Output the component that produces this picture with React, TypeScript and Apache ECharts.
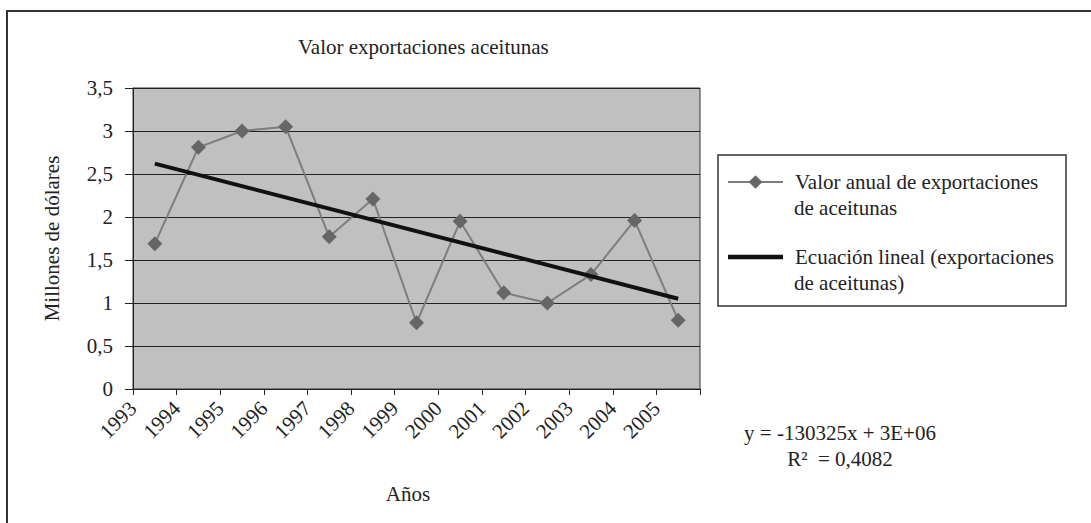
import React, { useEffect, useRef } from "react";
import * as echarts from "echarts";

const years = ["1993", "1994", "1995", "1996", "1997", "1998", "1999", "2000", "2001", "2002", "2003", "2004", "2005"];
const yearTickLabels = [...years, ""];
const exportValues = [1.69, 2.81, 3.0, 3.05, 1.77, 2.21, 0.77, 1.95, 1.12, 1.0, 1.33, 1.96, 0.8];
const trendPoints: [string, number][] = [["1993", 2.62], ["2005", 1.05]];
const seriesNames = ["Valor anual de exportaciones de aceitunas", "Ecuación lineal (exportaciones de aceitunas)"];
const legendFirstLines = ["Valor anual de exportaciones", "Ecuación lineal (exportaciones"];
const legendSecondLines = ["de aceitunas", "de aceitunas)"];
const titleText = "Valor exportaciones aceitunas";
const yAxisName = "Millones de dólares";
const xAxisName = "Años";
const equationLines = ["y = -130325x + 3E+06", "R²  = 0,4082"];
const yMin = 0;
const yMax = 3.5;
const yInterval = 0.5;

const FONT = '"Liberation Serif", "Times New Roman", serif';
const TEXT = "#222";

export default function App() {
  const ref = useRef<HTMLDivElement>(null);
  useEffect(() => {
    if (!ref.current) return;
    const chart = echarts.init(ref.current, null, { renderer: "svg" });
    const option: any = {
      animation: false,
      backgroundColor: "#ffffff",
      title: {
        text: titleText,
        left: 298,
        top: 36,
        padding: 0,
        textStyle: { fontFamily: FONT, fontSize: 21, fontWeight: "normal", color: TEXT },
      },
      grid: {
        left: 133,
        right: 391,
        top: 88,
        bottom: 134,
        show: true,
        backgroundColor: "#c0c0c0",
        borderColor: "#333",
        borderWidth: 1,
      },
      legend: {
        orient: "vertical",
        left: 727,
        top: 169,
        padding: 0,
        itemGap: 49,
        itemWidth: 55,
        itemHeight: 17,
        selectedMode: false,
        symbolKeepAspect: true,
        data: [
          { name: seriesNames[0] },
          { name: seriesNames[1], icon: "path://M0,0L55,0L55,4.5L0,4.5Z", itemStyle: { color: "#111111" } },
        ],
        formatter: (name: string) => legendFirstLines[seriesNames.indexOf(name)],
        textStyle: { fontFamily: FONT, fontSize: 21, color: TEXT, lineHeight: 26, padding: [0, 0, 0, 7] },
      },
      xAxis: [
        {
          type: "category",
          data: years,
          boundaryGap: true,
          axisLine: { show: true, lineStyle: { color: "#222", width: 1 } },
          axisTick: { show: true, length: 6, lineStyle: { color: "#222" } },
          axisLabel: { show: false },
          splitLine: { show: false },
          name: xAxisName,
          nameLocation: "middle",
          nameGap: 94,
          nameTextStyle: { fontFamily: FONT, fontSize: 21, color: TEXT, padding: [0, 17, 0, 0] },
        },
        {
          type: "category",
          data: yearTickLabels,
          boundaryGap: false,
          position: "bottom",
          axisLine: { show: false },
          axisTick: { show: false },
          splitLine: { show: false },
          axisLabel: { interval: 0, rotate: 45, margin: 16, fontFamily: FONT, fontSize: 21, color: TEXT },
        },
      ],
      yAxis: {
        type: "value",
        min: yMin,
        max: yMax,
        interval: yInterval,
        axisLine: { show: true, lineStyle: { color: "#222", width: 1 } },
        axisTick: { show: true, length: 8, lineStyle: { color: "#222" } },
        axisLabel: {
          margin: 20,
          fontFamily: FONT,
          fontSize: 21,
          color: TEXT,
          formatter: (v: number) => String(v).replace(".", ","),
        },
        splitLine: { show: true, lineStyle: { color: "#222", width: 1 } },
        name: yAxisName,
        nameLocation: "middle",
        nameGap: 71,
        nameTextStyle: { fontFamily: FONT, fontSize: 21, color: TEXT },
      },
      series: [
        {
          name: seriesNames[0],
          type: "line",
          xAxisIndex: 0,
          data: exportValues,
          symbol: "diamond",
          symbolSize: 15,
          lineStyle: { color: "#7d7d7d", width: 2 },
          itemStyle: { color: "#666666" },
          z: 3,
        },
        {
          name: seriesNames[1],
          type: "line",
          xAxisIndex: 0,
          data: trendPoints,
          symbol: "none",
          lineStyle: { color: "#111111", width: 4 },
          itemStyle: { color: "#111111" },
          z: 4,
        },
      ],
      graphic: [
        {
          type: "rect",
          z: -10,
          shape: { x: 7, y: 11, width: 1200, height: 700 },
          style: { fill: "none", stroke: "#333", lineWidth: 2 },
          silent: true,
        },
        {
          type: "rect",
          z: -5,
          shape: { x: 718, y: 155, width: 348, height: 151 },
          style: { fill: "#fff", stroke: "#333", lineWidth: 1.5 },
          silent: true,
        },
        {
          type: "text",
          x: 794,
          y: 208,
          style: { text: legendSecondLines[0], fontFamily: FONT, fontSize: 21, fill: TEXT, textVerticalAlign: "middle" },
        },
        {
          type: "text",
          x: 794,
          y: 283,
          style: { text: legendSecondLines[1], fontFamily: FONT, fontSize: 21, fill: TEXT, textVerticalAlign: "middle" },
        },
        {
          type: "text",
          x: 840,
          y: 433,
          style: { text: equationLines[0], fontFamily: FONT, fontSize: 21, fill: TEXT, textAlign: "center", textVerticalAlign: "middle" },
        },
        {
          type: "text",
          x: 840,
          y: 459,
          style: { text: equationLines[1], fontFamily: FONT, fontSize: 21, fill: TEXT, textAlign: "center", textVerticalAlign: "middle" },
        },
      ],
    };
    chart.setOption(option);
    return () => chart.dispose();
  }, []);
  return (
    <div
      ref={ref}
      style={{ position: "fixed", left: 0, top: 0, width: 1091, height: 523 }}
    />
  );
}
